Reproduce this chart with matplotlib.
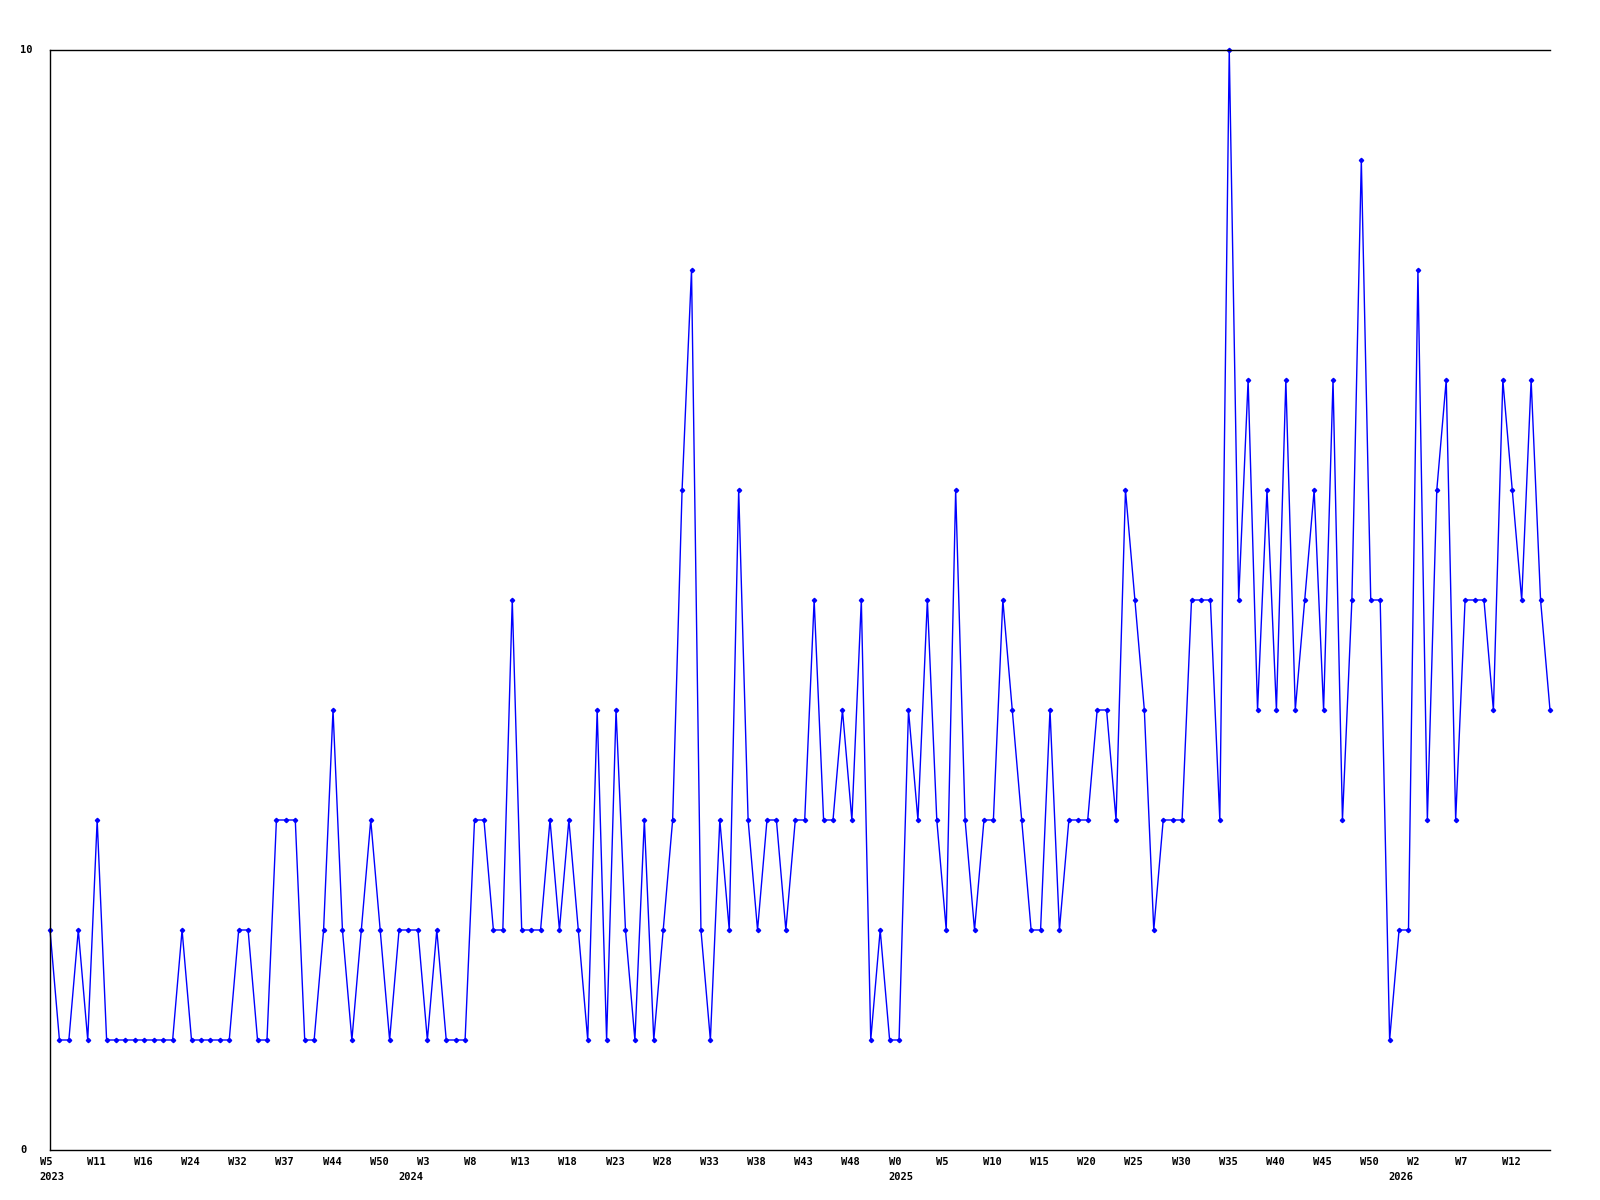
import matplotlib
matplotlib.use("Agg")
import matplotlib.pyplot as plt
import matplotlib.transforms as mtransforms

# valeurs hebdomadaires (une par semaine, depuis W5 2023)
values = [2, 1, 1, 2, 1, 3, 1, 1, 1, 1,
          1, 1, 1, 1, 2, 1, 1, 1, 1, 1,
          2, 2, 1, 1, 3, 3, 3, 1, 1, 2,
          4, 2, 1, 2, 3, 2, 1, 2, 2, 2,
          1, 2, 1, 1, 1, 3, 3, 2, 2, 5,
          2, 2, 2, 3, 2, 3, 2, 1, 4, 1,
          4, 2, 1, 3, 1, 2, 3, 6, 8, 2,
          1, 3, 2, 6, 3, 2, 3, 3, 2, 3,
          3, 5, 3, 3, 4, 3, 5, 1, 2, 1,
          1, 4, 3, 5, 3, 2, 6, 3, 2, 3,
          3, 5, 4, 3, 2, 2, 4, 2, 3, 3,
          3, 4, 4, 3, 6, 5, 4, 2, 3, 3,
          3, 5, 5, 5, 3, 10, 5, 7, 4, 6,
          4, 7, 4, 5, 6, 4, 7, 3, 5, 9,
          5, 5, 1, 2, 2, 8, 3, 6, 7, 3,
          5, 5, 5, 4, 7, 6, 5, 7, 5, 4]

# étiquettes de semaine, une toutes les 5 valeurs
week_labels = ["W5", "W11", "W16", "W24", "W32", "W37", "W44", "W50",
               "W3", "W8", "W13", "W18", "W23", "W28", "W33", "W38", "W43", "W48",
               "W0", "W5", "W10", "W15", "W20", "W25", "W30", "W35", "W40", "W45", "W50",
               "W2", "W7", "W12"]
tick_step = 5

# années, posées sur la première semaine de chaque année (indice de la valeur)
year_labels = ["2023", "2024", "2025", "2026"]
year_index = [0, 38, 90, 143]

y_ticks = [0, 10]

fig = plt.figure(figsize=(16, 12), dpi=100)
ax = fig.add_axes([50 / 1600, 50 / 1200, 1500 / 1600, 1100 / 1200])

x = list(range(len(values)))
ax.plot(x, values, color="#0000ff", linewidth=1.0, marker="D", markersize=2.2,
        markerfacecolor="#0000ff", markeredgecolor="#0000ff", clip_on=False)

ax.set_xlim(0, len(values) - 1)
ax.set_ylim(0, 10)

ax.spines["right"].set_visible(False)
for s in ["left", "top", "bottom"]:
    ax.spines[s].set_color("black")
    ax.spines[s].set_linewidth(1.0)

ax.set_xticks([])
ax.set_yticks([])

font = dict(family="DejaVu Sans Mono", weight="bold", fontsize=7.5, color="black")

# étiquettes de l'axe X (alignées à gauche, légèrement décalées)
shift = mtransforms.ScaledTranslation(-10.5 / 100, 0, fig.dpi_scale_trans)
trans_x = mtransforms.blended_transform_factory(ax.transData, fig.transFigure) + shift
for k, lab in enumerate(week_labels):
    ax.text(k * tick_step, 1 - 1162 / 1200, lab, transform=trans_x,
            ha="left", va="center", **font)
for k, lab in zip(year_index, year_labels):
    ax.text(k, 1 - 1177 / 1200, lab, transform=trans_x,
            ha="left", va="center", **font)

# étiquettes de l'axe Y
trans_y = mtransforms.blended_transform_factory(fig.transFigure, ax.transData)
for v in y_ticks:
    ax.text(20 / 1600, v, str(v), transform=trans_y, ha="left", va="center", **font)

fig.savefig("out.png", dpi=100, facecolor="white")
